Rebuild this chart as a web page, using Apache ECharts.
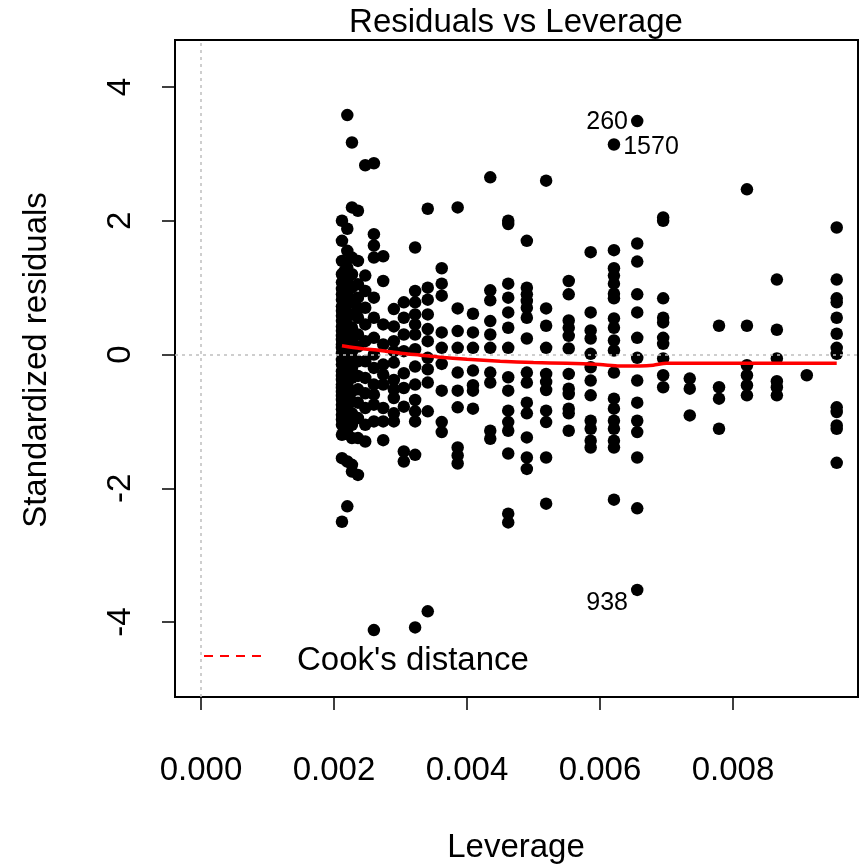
<!DOCTYPE html>
<html>
<head>
<meta charset="utf-8">
<script src="https://cdn.jsdelivr.net/npm/echarts@6/dist/echarts.min.js"></script>
<style>html,body{margin:0;padding:0;background:#fff}#c{width:865px;height:867px}</style>
</head>
<body>
<div id="c"></div>
<script>
// Leverage value of each column of points
const colLev = [0.00212, 0.00216, 0.00220, 0.00227, 0.00236, 0.00247, 0.00260, 0.00274, 0.00290, 0.00305, 0.00322,
  0.00341, 0.00362, 0.00386, 0.00409, 0.00435, 0.00462, 0.00490, 0.00519, 0.00553, 0.00586,
  0.00621, 0.00656, 0.00695, 0.00735, 0.00779, 0.00821, 0.00866, 0.00911, 0.00956];
// Standardized residuals in each column
const colRes = [
  [2.0, 1.7, 1.4, 1.2, 1.08, 0.98, 0.9, 0.82, 0.72, 0.65, 0.58, 0.5, 0.42, 0.35, 0.28, 0.22, 0.15, 0.1, 0.02, -0.08, -0.15, -0.25, -0.32, -0.38, -0.45, -0.5, -0.56, -0.62, -0.68, -0.75, -0.82, -0.9, -0.97, -1.05, -1.2, -1.55, -2.5],
  [1.25, 1.0, 0.85, 0.7, 0.55, 0.4, 0.25, 0.12, -0.02, -0.18, -0.35, -0.52, -0.66, -0.85, -1.0, -1.15],
  [3.58, 1.88, 1.55, 1.3, 1.1, 0.92, 0.75, 0.6, 0.45, 0.3, 0.15, 0.02, -0.15, -0.3, -0.45, -0.6, -0.78, -0.95, -1.12, -1.6, -2.27],
  [3.17, 2.2, 1.45, 1.2, 1.0, 0.8, 0.6, 0.4, 0.2, 0.05, -0.05, -0.2, -0.35, -0.55, -0.7, -0.88, -1.05, -1.25, -1.65, -1.75],
  [2.15, 1.4, 1.05, 0.85, 0.7, 0.55, 0.3, 0.12, -0.1, -0.32, -0.52, -0.72, -0.95, -1.25, -1.8],
  [2.83, 1.18, 0.95, 0.7, 0.45, 0.2, -0.1, -0.35, -0.58, -0.8, -1.05, -1.3],
  [2.86, 1.8, 1.63, 1.45, 0.85, 0.55, 0.25, 0.0, -0.2, -0.45, -0.6, -0.75, -1.0, -4.12],
  [1.47, 1.1, 0.45, 0.15, -0.15, -0.3, -0.45, -0.8, -1.0, -1.28],
  [0.68, 0.42, 0.2, 0.05, -0.12, -0.38, -0.52, -0.65, -0.88, -1.0],
  [0.78, 0.55, 0.3, 0.05, -0.28, -0.5, -0.78, -1.45, -1.6],
  [1.6, 0.95, 0.78, 0.6, 0.45, 0.3, 0.08, -0.18, -0.45, -0.68, -0.85, -1.0, -1.5, -4.08],
  [2.18, 1.0, 0.82, 0.6, 0.38, 0.2, -0.05, -0.22, -0.42, -0.85, -3.84],
  [1.29, 1.06, 0.88, 0.33, 0.1, -0.14, -0.54, -1.01, -1.16],
  [2.2, 0.69, 0.35, 0.1, -0.27, -0.54, -0.79, -1.39, -1.51, -1.63],
  [0.61, 0.33, 0.1, -0.24, -0.46, -0.54, -0.81],
  [2.65, 0.96, 0.81, 0.5, 0.3, 0.1, -0.27, -0.42, -1.14, -1.26],
  [2.0, 1.95, 1.06, 0.85, 0.63, 0.4, 0.1, -0.34, -0.54, -0.84, -1.01, -1.14, -1.48, -2.38, -2.51],
  [1.7, 1.0, 0.9, 0.8, 0.7, 0.55, 0.24, -0.27, -0.42, -0.72, -0.88, -1.24, -1.54, -1.71],
  [2.6, 0.69, 0.43, 0.1, -0.29, -0.41, -0.53, -0.84, -1.01, -1.54, -2.23],
  [1.1, 0.9, 0.51, 0.4, 0.28, 0.09, -0.29, -0.51, -0.59, -0.81, -0.88, -1.14],
  [1.53, 0.63, 0.36, 0.24, 0.01, -0.19, -0.39, -0.61, -0.99, -1.11, -1.29, -1.39],
  [1.56, 1.29, 1.18, 1.06, 0.91, 0.84, 0.54, 0.4, 0.21, 0.06, -0.27, -0.66, -0.81, -0.99, -1.11, -1.29, -1.39, -2.17],
  [1.66, 1.39, 0.9, 0.63, 0.25, -0.05, -0.39, -0.72, -0.99, -1.16, -1.54, -2.3],
  [2.05, 2.0, 0.84, 0.55, 0.48, 0.25, 0.16, -0.06, -0.31, -0.49],
  [-0.36, -0.51, -0.91],
  [0.43, -0.49, -0.66, -1.11],
  [2.47, 0.43, -0.16, -0.31, -0.46, -0.61],
  [1.12, 0.37, -0.06, -0.4, -0.49, -0.61],
  [-0.31],
  [1.9, 1.12, 0.84, 0.78, 0.55, 0.31, 0.1, 0.01, -0.79, -0.86, -1.06, -1.11, -1.62]
];
// Identified (labelled) observations
const idLabels = ['260', '1570', '938'];
const idLev = [0.00656, 0.00621, 0.00656];
const idRes = [3.49, 3.14, -3.52];
// Red smoother
const smoothLev = [0.00212, 0.0024, 0.0027, 0.0030, 0.0033, 0.0036, 0.0040, 0.0045, 0.0050, 0.0055, 0.0060, 0.0063, 0.0066, 0.0068, 0.0070, 0.0075, 0.0080, 0.0090, 0.00956];
const smoothRes = [0.13, 0.09, 0.06, 0.02, -0.01, -0.04, -0.07, -0.10, -0.12, -0.13, -0.15, -0.17, -0.17, -0.16, -0.13, -0.13, -0.13, -0.13, -0.13];
// Axis ticks
const xTicks = [0, 0.002, 0.004, 0.006, 0.008];
const yTicks = [-4, -2, 0, 2, 4];

const FONT = "'Liberation Sans', Arial, sans-serif";
const pts = [];
colLev.forEach((x, i) => colRes[i].forEach(y => pts.push([x, y])));
const labelPlace = [
  {position: 'left', distance: 3, offset: [0, 1]},
  {position: 'right', distance: 3, offset: [0, 3]},
  {position: 'left', distance: 3, offset: [0, 13]}
];
const idData = idLev.map((x, i) => ({value: [x, idRes[i]], name: idLabels[i], label: labelPlace[i]}));

const chart = echarts.init(document.getElementById('c'), null, {renderer: 'canvas'});
chart.setOption({
  animation: false,
  backgroundColor: '#fff',
  grid: {left: 175, top: 40, right: 7, bottom: 170, show: true, borderColor: '#000', borderWidth: 2, backgroundColor: 'transparent'},
  xAxis: {
    type: 'value', min: -0.000391, max: 0.00988,
    splitLine: {show: false},
    axisLine: {show: false, onZero: false},
    axisTick: {show: true, length: 13, customValues: xTicks, lineStyle: {color: '#000', width: 1.5}},
    axisLabel: {customValues: xTicks, margin: 57, color: '#000', fontSize: 33, fontFamily: FONT,
      formatter: v => v.toFixed(3)}
  },
  yAxis: {
    type: 'value', min: -5.121, max: 4.703,
    splitLine: {show: false},
    axisLine: {show: false, onZero: false},
    axisTick: {show: true, length: 13, customValues: yTicks, lineStyle: {color: '#000', width: 1.5}},
    axisLabel: {customValues: yTicks, margin: 38, rotate: 90, color: '#000', fontSize: 33, fontFamily: FONT,
      formatter: v => String(v)}
  },
  series: [
    {
      type: 'scatter', data: pts, symbol: 'circle', symbolSize: 12.5,
      itemStyle: {color: '#000', opacity: 1}, silent: true, z: 2,
      markLine: {
        silent: true, symbol: 'none', label: {show: false}, z: 3,
        lineStyle: {color: '#bebebe', type: [3, 4], width: 1.5},
        data: [{xAxis: 0}, {yAxis: 0}]
      }
    },
    {
      type: 'scatter', data: idData, symbol: 'circle', symbolSize: 12.5,
      itemStyle: {color: '#000', opacity: 1}, silent: true, z: 2,
      label: {show: true, formatter: p => p.name, color: '#000', opacity: 1, fontSize: 25, fontFamily: FONT}
    },
    {
      type: 'line', data: smoothLev.map((x, i) => [x, smoothRes[i]]), symbol: 'none', smooth: 0.3,
      lineStyle: {color: '#ff0000', width: 3.5}, silent: true, z: 5
    }
  ],
  graphic: [
    {type: 'text', x: 516, y: 23, style: {text: 'Residuals vs Leverage', font: '33px ' + FONT, fill: '#000', textAlign: 'center', textVerticalAlign: 'middle'}},
    {type: 'text', x: 516, y: 848, style: {text: 'Leverage', font: '33px ' + FONT, fill: '#000', textAlign: 'center', textVerticalAlign: 'middle'}},
    {type: 'text', x: 37, y: 360, rotation: Math.PI / 2, style: {text: 'Standardized residuals', font: '33px ' + FONT, fill: '#000', textAlign: 'center', textVerticalAlign: 'middle'}},
    {type: 'line', shape: {x1: 204, y1: 656, x2: 264, y2: 656}, style: {stroke: '#ff0000', lineWidth: 2, lineDash: [9, 7]}},
    {type: 'text', x: 297, y: 661, style: {text: "Cook's distance", font: '33px ' + FONT, fill: '#000', textAlign: 'left', textVerticalAlign: 'middle'}}
  ]
});
</script>
</body>
</html>
